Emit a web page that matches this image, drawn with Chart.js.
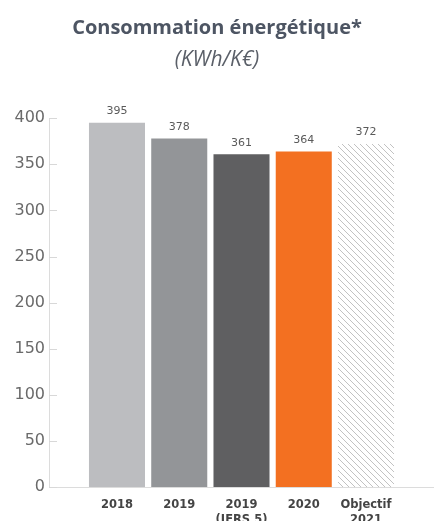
<!DOCTYPE html>
<html>
<head>
<meta charset="utf-8">
<script src="https://cdn.jsdelivr.net/npm/chart.js@4/dist/chart.umd.min.js"></script>
<style>
  html, body { margin: 0; padding: 0; background: #fff; }
  #wrap { width: 434px; height: 521px; }
</style>
</head>
<body>
<div id="wrap"><canvas id="chart"></canvas></div>
<script>
var categories = [["2018"], ["2019"], ["2019", "(IFRS 5)"], ["2020"], ["Objectif", "2021"]];
var values = [395, 378, 361, 364, 372];
var yTicks = [0, 50, 100, 150, 200, 250, 300, 350, 400];
var colors = ["#bcbdc0", "#939598", "#5f5f61", "#f37021", null];

// diagonal hatch for the target bar
function hatch() {
  var c = document.createElement("canvas");
  c.width = 6; c.height = 6;
  var g = c.getContext("2d");
  g.strokeStyle = "#c2c2c2";
  g.lineWidth = 1;
  g.beginPath();
  g.moveTo(-1, -1); g.lineTo(7, 7);
  g.moveTo(-1, 5); g.lineTo(1, 7);
  g.moveTo(5, -1); g.lineTo(7, 1);
  g.stroke();
  return g.createPattern(c, "repeat");
}

var fills = colors.map(function (c) { return c || hatch(); });

// values written above the bars + small inner ticks on the y axis
var extras = {
  id: "extras",
  afterDatasetsDraw: function (chart) {
    var ctx = chart.ctx;
    var meta = chart.getDatasetMeta(0);
    ctx.save();
    ctx.font = "11px 'DejaVu Sans'";
    ctx.fillStyle = "#5a5a5a";
    ctx.textAlign = "center";
    ctx.textBaseline = "bottom";
    meta.data.forEach(function (bar, i) {
      ctx.fillText(values[i], bar.x, bar.y - 6);
    });
    var y = chart.scales.y;
    ctx.strokeStyle = "#d8d8d8";
    ctx.lineWidth = 1;
    ctx.beginPath();
    yTicks.forEach(function (v) {
      var py = Math.round(y.getPixelForValue(v)) + 0.5;
      ctx.moveTo(y.right, py);
      ctx.lineTo(y.right + 8, py);
    });
    ctx.stroke();
    ctx.restore();
  }
};

new Chart(document.getElementById("chart"), {
  type: "bar",
  data: {
    datasets: [{
      data: values.map(function (v, i) { return { x: i, y: v }; }),
      backgroundColor: fills,
      borderWidth: 0,
      categoryPercentage: 0.9,
      barPercentage: 1
    }]
  },
  options: {
    responsive: true,
    maintainAspectRatio: false,
    animation: false,
    layout: { padding: { left: 0, right: 0, bottom: 0 } },
    plugins: {
      legend: { display: false },
      tooltip: { enabled: false },
      title: {
        display: true,
        text: "Consommation énergétique*",
        color: "#4d5563",
        font: { family: "'Open Sans'", size: 20, weight: "bold" },
        padding: { top: 16, bottom: 7 }
      },
      subtitle: {
        display: true,
        text: "(KWh/K€)",
        color: "#5a5f68",
        font: { family: "'Open Sans'", size: 21, style: "italic" },
        padding: { bottom: 46 }
      }
    },
    scales: {
      x: {
        type: "linear",
        offset: false,
        min: -1.092,
        max: 5.092,
        afterBuildTicks: function (s) {
          s.ticks = categories.map(function (c, i) { return { value: i }; });
        },
        afterFit: function (s) { s.height = 34; },
        grid: { display: false, drawTicks: false },
        border: { display: true, color: "#dcdcdc", width: 1 },
        ticks: {
          autoSkip: false,
          maxRotation: 0,
          padding: 11,
          color: "#444",
          font: { family: "'DejaVu Sans'", size: 11.5, weight: "bold", lineHeight: 1.25 },
          callback: function (v) { return categories[v] || ""; }
        }
      },
      y: {
        min: 0,
        max: 400,
        afterBuildTicks: function (s) {
          s.ticks = yTicks.map(function (v) { return { value: v }; });
        },
        afterFit: function (s) { s.width = 49; },
        grid: { display: false, drawTicks: false },
        border: { display: true, color: "#dcdcdc", width: 1 },
        ticks: {
          padding: 4,
          color: "#6a6a6a",
          font: { family: "'DejaVu Sans'", size: 16 }
        }
      }
    }
  },
  plugins: [extras]
});
</script>
</body>
</html>
